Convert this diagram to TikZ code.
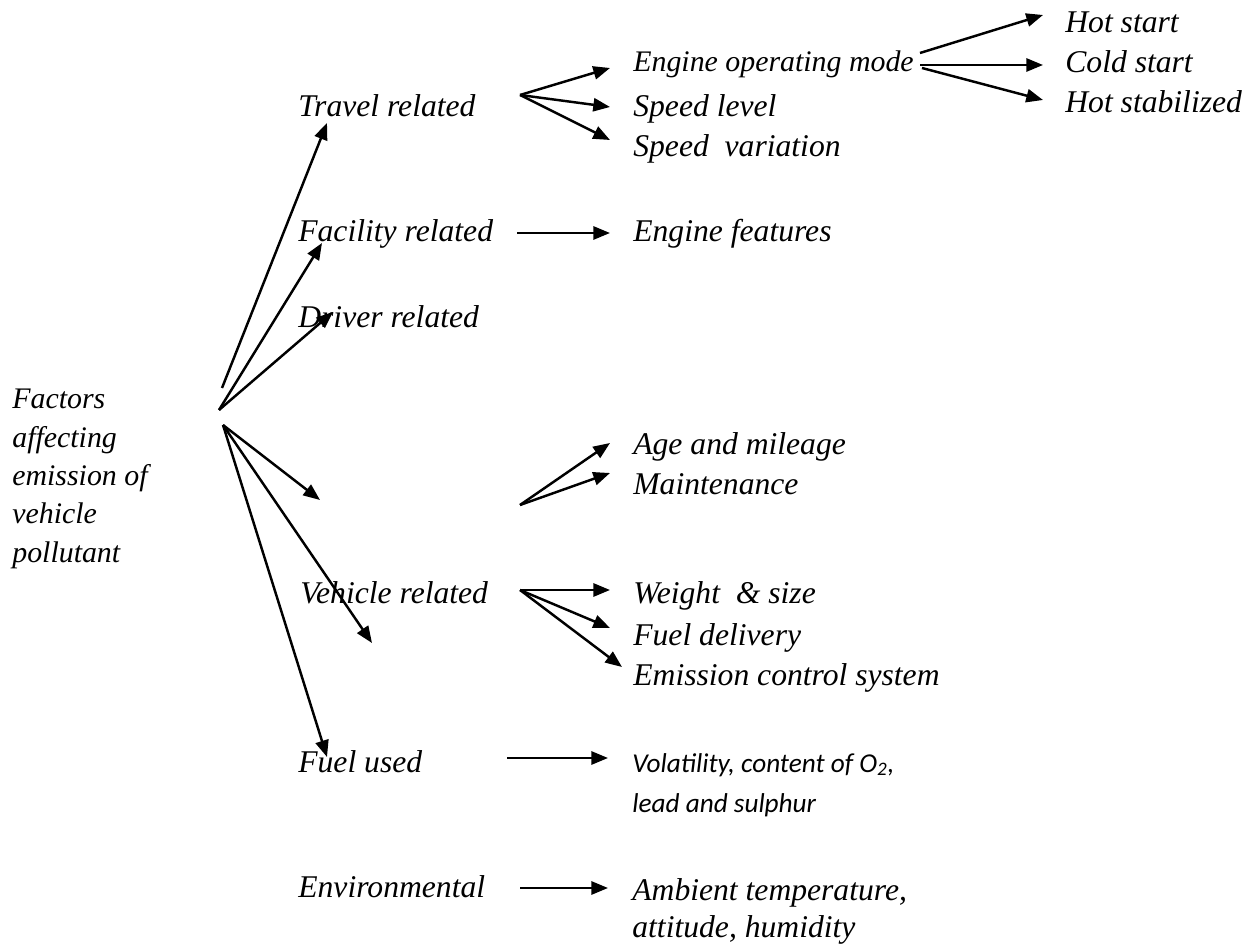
\documentclass[tikz,border=0pt]{standalone}
\usepackage{fontspec}
\setmainfont{Liberation Serif}
\newfontfamily\calibrisans{Carlito}
\usetikzlibrary{arrows.meta,calc}

\begin{document}
\begin{tikzpicture}
[x=0.02cm,y=-0.02cm,
  textdecorate/.style={anchor=base west,inner sep=0pt,font=\rmfamily\itshape\fontsize{18}{21}\selectfont},
  smalltextdecorate/.style={textdecorate,font=\rmfamily\itshape\fontsize{17}{20}\selectfont},
  roottextdecorate/.style={textdecorate,align=left,font=\rmfamily\itshape\fontsize{17}{21.8}\selectfont},
  sanstextdecorate/.style={textdecorate,align=left,font=\calibrisans\itshape\fontsize{15.5}{22.7}\selectfont},
  twolinedecorate/.style={textdecorate,align=left,font=\rmfamily\itshape\fontsize{18}{21}\selectfont},
  linedecorate/.style={-{Triangle[length=9.5pt,width=7.5pt]},line width=1.4pt}]
\useasboundingbox (0,0) rectangle (1251,945);
%% root (base is the last line)
\node (factors) at (12,562) [roottextdecorate]
  {Factors\\affecting\\emission of\\vehicle\\pollutant};
%% factor groups and their items
\foreach \nodename/\x/\y/\txt in {
  travel/298/117/Travel related, facility/298/242/Facility related,
  driver/298/328/Driver related, vehicle/300/603/Vehicle related,
  fuelused/298/772/Fuel used, environ/298/897/Environmental,
  speedlevel/633/117/Speed level, speedvar/633/157/Speed\ \ variation,
  hotstart/1065/33/Hot start, coldstart/1065/73/Cold start,
  hotstab/1065/113/Hot stabilized, enginefeat/633/242/Engine features,
  age/633/455/Age and mileage, maint/633/495/Maintenance,
  weight/633/603/Weight\ \ \& size, fueldel/633/645/Fuel delivery,
  emission/633/685/Emission control system} {
  \node (\nodename) at (\x,\y) [textdecorate] {\txt};
}
\node (engine) at (633,72) [smalltextdecorate] {Engine operating mode};
\node (volatility) at (632,812) [sanstextdecorate]
  {Volatility, content of O\textsubscript{2},\\lead and sulphur};
\node (ambient) at (632,937) [twolinedecorate]
  {Ambient temperature,\\attitude, humidity};
%% arrow ends
\foreach \nodename/\dx/\dy in {
  travel/29/6, facility/24/1, driver/35/-16, fuelused/29/-15,
  engine/-23/-4, speedlevel/-23/-10, speedvar/-23/-17,
  hotstart/-22/-18, coldstart/-22/-8, hotstab/-22/-13,
  enginefeat/-23/-9, age/-23/-12, maint/-23/-22,
  weight/-23/-13, fueldel/-23/-17, emission/-11/-18,
  volatility/-24/-54, ambient/-24/-49} {
  \coordinate (\nodename-in) at ($(\nodename.base west)+(\dx,\dy)$);
}
\foreach \nodename/\x/\y in {
  hubtop/222/388, hubup/219/410, hubdown/223/425,
  freeone/320/500, freetwo/372/643,
  travelfork/520/95, agefork/520/505, vehiclefork/520/590,
  engineoutone/920/53, engineouttwo/920/65, engineoutthree/922/68,
  facilityout/517/233, fuelout/507/758, environout/520/888} {
  \coordinate (\nodename) at (\x,\y);
}
%% edges
\path
\foreach \startnode/\endnode in {
  hubtop/travel-in, hubup/facility-in, hubup/driver-in,
  hubdown/freeone, hubdown/freetwo, hubdown/fuelused-in,
  travelfork/engine-in, travelfork/speedlevel-in, travelfork/speedvar-in,
  engineoutone/hotstart-in, engineouttwo/coldstart-in, engineoutthree/hotstab-in,
  facilityout/enginefeat-in, agefork/age-in, agefork/maint-in,
  vehiclefork/weight-in, vehiclefork/fueldel-in, vehiclefork/emission-in,
  fuelout/volatility-in, environout/ambient-in} {
  (\startnode) edge[linedecorate] (\endnode)
};
\end{tikzpicture}
\end{document}
